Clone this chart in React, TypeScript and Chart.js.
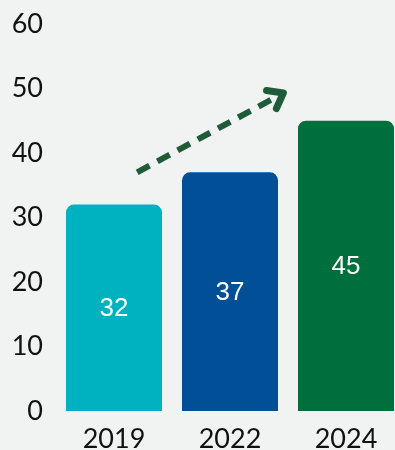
import React, { useEffect, useRef } from "react";
import { Chart, registerables } from "chart.js";

Chart.register(...registerables);

const categories = ["2019", "2022", "2024"];
const values = [32, 37, 45];
const barColors = ["#00b1bf", "#004f97", "#006f3e"];
const yTicks = [0, 10, 20, 30, 40, 50, 60];
// arrow annotation in data units: [categoryIndex, value]
const arrowStart = [0.2, 37];
const arrowEnd = [1.46, 49.3];

const BG = "#f1f3f2";
const ARROW = "#1f5b38";

const barLabelPlugin = {
  id: "barLabels",
  afterDatasetsDraw(chart: any) {
    const ctx = chart.ctx;
    const meta = chart.getDatasetMeta(0);
    ctx.save();
    ctx.fillStyle = "#ffffff";
    ctx.font = "26px 'Liberation Sans', Arial, sans-serif";
    ctx.textAlign = "center";
    ctx.textBaseline = "middle";
    meta.data.forEach((el: any, i: number) => {
      const y = (el.y + el.base) / 2 + 1;
      ctx.fillText(String(values[i]), el.x, y);
    });
    ctx.restore();
  },
};

const arrowPlugin = {
  id: "arrow",
  afterDraw(chart: any) {
    const ctx = chart.ctx;
    const xs = chart.scales.x;
    const ys = chart.scales.y;
    const x1 = xs.getPixelForValue(arrowStart[0]);
    const y1 = ys.getPixelForValue(arrowStart[1]);
    const x2 = xs.getPixelForValue(arrowEnd[0]);
    const y2 = ys.getPixelForValue(arrowEnd[1]);
    const ang = Math.atan2(y2 - y1, x2 - x1);
    ctx.save();
    ctx.strokeStyle = ARROW;
    ctx.lineWidth = 6;
    ctx.setLineDash([14, 9]);
    ctx.lineCap = "butt";
    ctx.beginPath();
    ctx.moveTo(x1, y1);
    ctx.lineTo(x2 - Math.cos(ang) * 4, y2 - Math.sin(ang) * 4);
    ctx.stroke();
    ctx.setLineDash([]);
    ctx.lineWidth = 7;
    ctx.lineJoin = "round";
    ctx.lineCap = "round";
    const hl = 17;
    ctx.beginPath();
    ctx.moveTo(x2 + Math.cos(ang + Math.PI - 0.65) * hl, y2 + Math.sin(ang + Math.PI - 0.65) * hl);
    ctx.lineTo(x2, y2);
    ctx.lineTo(x2 + Math.cos(ang + Math.PI + 0.65) * hl, y2 + Math.sin(ang + Math.PI + 0.65) * hl);
    ctx.stroke();
    ctx.restore();
  },
};

const bgPlugin = {
  id: "bg",
  beforeDraw(chart: any) {
    const ctx = chart.ctx;
    ctx.save();
    ctx.fillStyle = BG;
    ctx.fillRect(0, 0, chart.width, chart.height);
    ctx.restore();
  },
};

export default function App() {
  const ref = useRef<HTMLCanvasElement>(null);
  useEffect(() => {
    document.body.style.margin = "0";
    document.body.style.background = BG;
    const chart = new Chart(ref.current!, {
      type: "bar",
      data: {
        labels: categories,
        datasets: [
          {
            data: values,
            backgroundColor: barColors,
            borderRadius: { topLeft: 8, topRight: 8, bottomLeft: 0, bottomRight: 0 },
            borderSkipped: false,
            categoryPercentage: 1,
            barPercentage: 0.8276,
          },
        ],
      },
      options: {
        animation: false,
        responsive: false,
        maintainAspectRatio: false,
        layout: { padding: { top: 24, right: 0, left: 0, bottom: 0 } },
        plugins: { legend: { display: false }, tooltip: { enabled: false } },
        scales: {
          x: {
            grid: { display: false, drawTicks: false },
            border: { display: false },
            ticks: {
              color: "#111",
              font: { family: "Lato", size: 27 },
              padding: 12,
            },
            afterFit(scale: any) {
              scale.height = 49;
            },
          },
          y: {
            min: 0,
            max: 60,
            afterBuildTicks(scale: any) {
              scale.ticks = yTicks.map((v) => ({ value: v }));
            },
            grid: { display: false, drawTicks: false },
            border: { display: false },
            ticks: {
              color: "#111",
              font: { family: "Lato", size: 27, lineHeight: 0.8 },
              padding: 13,
            },
            afterFit(scale: any) {
              scale.width = 56;
            },
          },
        },
      },
      plugins: [bgPlugin, barLabelPlugin, arrowPlugin],
    });
    return () => chart.destroy();
  }, []);
  return (
    <div style={{ width: 395, height: 450, overflow: "hidden", background: BG }}>
      <canvas ref={ref} width={404} height={460} style={{ display: "block" }} />
    </div>
  );
}
